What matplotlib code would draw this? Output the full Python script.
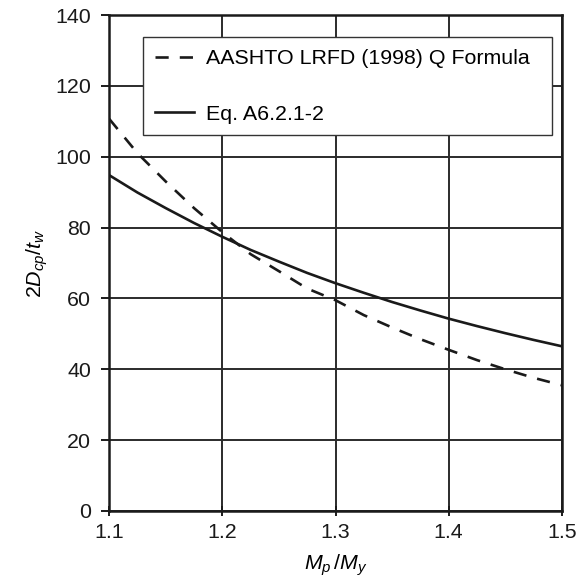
import matplotlib as mpl
import matplotlib.pyplot as plt

mpl.rcParams.update({
    "font.family": ["Liberation Sans", "DejaVu Sans"],
    "font.size": 15.4,
    "mathtext.fontset": "custom",
    "mathtext.it": "Liberation Sans:italic",
    "mathtext.rm": "Liberation Sans",
})

# values
mp_my = [1.1, 1.125, 1.15, 1.175, 1.2, 1.225, 1.25, 1.275, 1.3,
         1.325, 1.35, 1.375, 1.4, 1.425, 1.45, 1.475, 1.5]
q_formula = [110.7, 101.0, 93.0, 85.5, 78.7, 72.5, 67.7, 62.8, 59.5,
             55.3, 51.8, 48.5, 45.5, 42.6, 40.0, 37.6, 35.5]
eq_a621 = [94.8, 89.9, 85.5, 81.3, 77.4, 73.7, 70.4, 67.2, 64.3,
           61.6, 59.0, 56.6, 54.3, 52.2, 50.2, 48.3, 46.5]
labels = ["AASHTO LRFD (1998) Q Formula", "Eq. A6.2.1-2"]

fig = plt.figure(figsize=(5.84, 5.8), dpi=100)
ax = fig.add_axes([0.187, 0.119, 0.775, 0.855])

ink = "#1a1a1a"
ax.plot(mp_my, q_formula, color=ink, lw=1.9, dashes=(5, 4.2), label=labels[0], zorder=3)
ax.plot(mp_my, eq_a621, color=ink, lw=1.9, label=labels[1], zorder=3)

ax.set_xlim(1.1, 1.5)
ax.set_ylim(0, 140)
ax.set_xticks([1.1, 1.2, 1.3, 1.4, 1.5])
ax.set_yticks(range(0, 141, 20))
ax.set_xticklabels(["1.1", "1.2", "1.3", "1.4", "1.5"])
ax.grid(True, color="#2b2b2b", lw=1.4, zorder=1)
ax.set_axisbelow(True)

for sp in ax.spines.values():
    sp.set_linewidth(1.8)
    sp.set_color(ink)
ax.tick_params(axis="x", direction="inout", length=7, width=1.4, pad=5, colors=ink)
ax.tick_params(axis="y", direction="out", length=6, width=1.4, pad=7, colors=ink)

ax.set_xlabel(r"$\mathit{M_p\,/M_y}$", labelpad=8)
ax.set_ylabel(r"$\mathit{2D_{cp}/t_w}$", labelpad=4)

leg = ax.legend(loc="upper left", bbox_to_anchor=(0.075, 0.0, 0.903, 0.955),
                mode="expand", borderaxespad=0, borderpad=0.55,
                labelspacing=1.7, handlelength=1.85, handletextpad=0.55,
                fancybox=False, framealpha=1, edgecolor="#333333")
leg.get_frame().set_linewidth(1.0)

fig.savefig("out.png", dpi=100)
